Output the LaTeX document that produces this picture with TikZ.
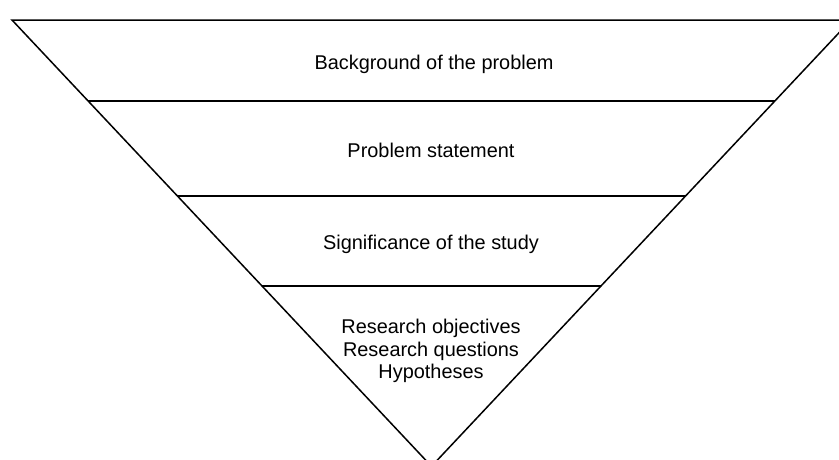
\documentclass[tikz,border=0pt]{standalone}
\usepackage{fontspec}
\setmainfont{Liberation Sans}
\usepackage{tikz}

\begin{document}
\begin{tikzpicture}[x=1pt,y=-1pt,line width=1.5pt,
    every node/.style={font=\fontsize{19.9}{22.8}\selectfont, align=center, inner sep=0pt}]
        \useasboundingbox (0,0) rectangle (839,459);
        % corners of the funnel
        \coordinate (tl) at (12,20);
        \coordinate (tr) at (851,20);
        \coordinate (apex) at (431.5,466.3);
        % ends of the dividing lines
        \coordinate (l1) at (88.1,101);
        \coordinate (r1) at (774.9,101);
        \coordinate (l2) at (177.4,196);
        \coordinate (r2) at (685.6,196);
        \coordinate (l3) at (262,286);
        \coordinate (r3) at (601,286);
        % texts, top to bottom
        \node[anchor=base] (bg) at (434,69) {Background of the problem};
        \node[anchor=base] (ps) at (431,157) {Problem statement};
        \node[anchor=base] (sig) at (431,249) {Significance of the study};
        \node (ro) at (431,351) {Research objectives\\Research questions\\Hypotheses};

        % Now the outline and the layers
        \draw (tl)--(tr)--(apex)--cycle;
        \draw (l1)--(r1);
        \draw (l2)--(r2);
        \draw (l3)--(r3);
\end{tikzpicture}
\end{document}
